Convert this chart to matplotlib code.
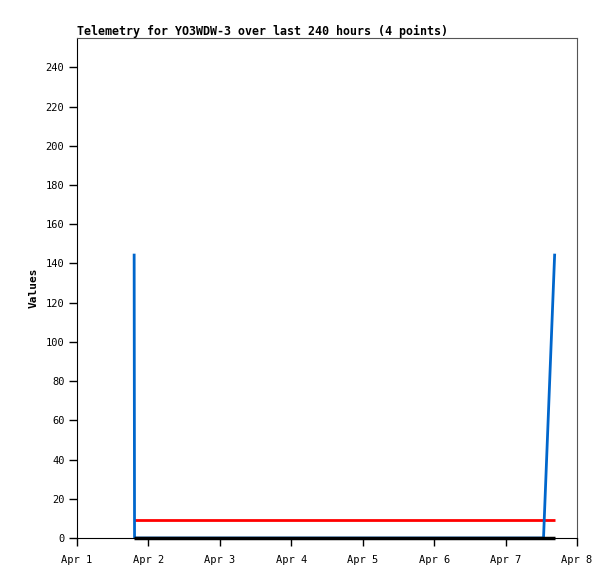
import matplotlib
matplotlib.use("Agg")
import matplotlib.pyplot as plt
from datetime import datetime

times = [datetime(2024, 4, 1, 19, 12), datetime(2024, 4, 1, 19, 20),
         datetime(2024, 4, 7, 12, 45), datetime(2024, 4, 7, 16, 30)]
series_blue = [145, 0, 0, 145]
series_red = [9, 9, 9, 9]
series_black = [0, 0, 0, 0]
tick_days = [datetime(2024, 4, d) for d in range(1, 9)]
tick_labels = [f"Apr {d}" for d in range(1, 9)]

fig = plt.figure(figsize=(6.15, 5.79), dpi=100)
ax = fig.add_axes([77/615, 1-538/579, 500/615, 500/579])

ax.plot(times, series_red, color="#ff0000", lw=2, solid_capstyle="butt", zorder=2)
ax.plot(times, series_blue, color="#0066cc", lw=2, solid_capstyle="butt", zorder=3)
ax.plot(times, series_black, color="#000000", lw=2.5, solid_capstyle="butt", zorder=4, clip_on=False)

ax.set_xlim(tick_days[0], tick_days[-1])
ax.set_ylim(0, 255)
ax.set_xticks(tick_days)
ax.set_xticklabels(tick_labels)
ax.set_yticks(range(0, 241, 20))

mono = "DejaVu Sans Mono"
for lab in ax.get_xticklabels() + ax.get_yticklabels():
    lab.set_family(mono)
    lab.set_fontsize(7.5)
ax.tick_params(direction="out", length=6, width=1, color="black")
ax.tick_params(axis="y", pad=3)
ax.tick_params(axis="x", pad=6)

for s in ["top", "right"]:
    ax.spines[s].set_color("#555555")
for s in ["left", "bottom"]:
    ax.spines[s].set_color("black")

ax.set_title("Telemetry for YO3WDW-3 over last 240 hours (4 points)", loc="left",
             family=mono, fontweight="bold", fontsize=8.37, pad=1.5)
ax.set_ylabel("Values", family=mono, fontweight="bold", fontsize=8, labelpad=5)

fig.savefig("out.png", dpi=100)
